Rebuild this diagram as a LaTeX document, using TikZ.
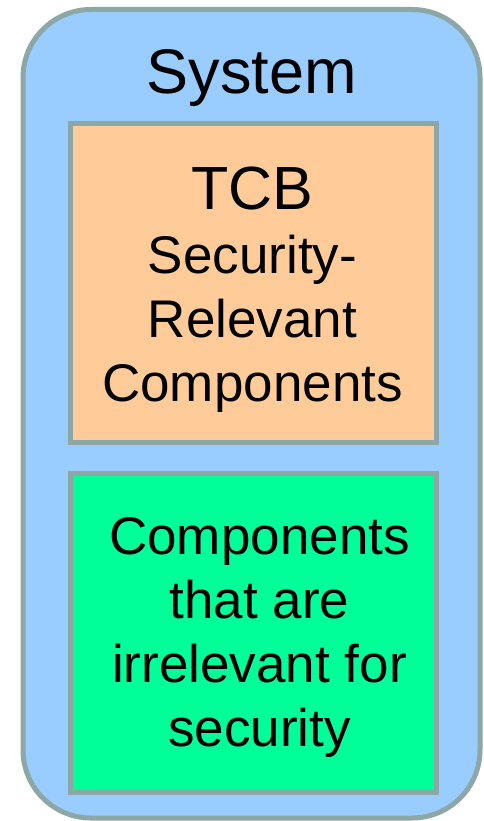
\documentclass[tikz,border=0pt]{standalone}
\usepackage{fontspec}
\setmainfont{Liberation Sans}
\usetikzlibrary{positioning}
\definecolor{sysblue}{HTML}{99CCFF}
\definecolor{tcborange}{HTML}{FFCC99}
\definecolor{othergreen}{HTML}{00FF99}
\definecolor{edgegray}{HTML}{8DA6A6}
\tikzset{
  system/.style = {rectangle, rounded corners=68pt, minimum width=457pt, minimum height=808.5pt, draw=edgegray, line width=5pt, fill=sysblue},
  part/.style = {rectangle, minimum width=366pt, inner sep=0pt, draw=edgegray, line width=5pt},
  parttext/.style = {align=center, inner sep=0pt, font=\fontsize{53}{64}\selectfont}
}
\begin{document}
\begin{tikzpicture}[x=1pt, y=1pt]
  \useasboundingbox (0,0) rectangle (484,-821);
  \node (sys) [system] at (251.5,-413.75) {};
  \node (title) [anchor=base, font=\fontsize{63}{70}\selectfont] at (251.5,-94) {System};
  \node (tcb) [part, fill=tcborange, minimum height=318.5pt] at (253.5,-282.75) {};
  \node (rest) [part, fill=othergreen, minimum height=319pt, below=26.5pt of tcb] {};
  % box texts
  \node (tcbtext) [parttext] at ([xshift=-1pt, yshift=-7pt]tcb.center)
    {{\fontsize{61}{64}\selectfont TCB}\\Security-\\Relevant\\Components};
  \node (resttext) [parttext] at ([xshift=6pt, yshift=-4pt]rest.center)
    {Components\\that are\\irrelevant for\\security};
\end{tikzpicture}
\end{document}
